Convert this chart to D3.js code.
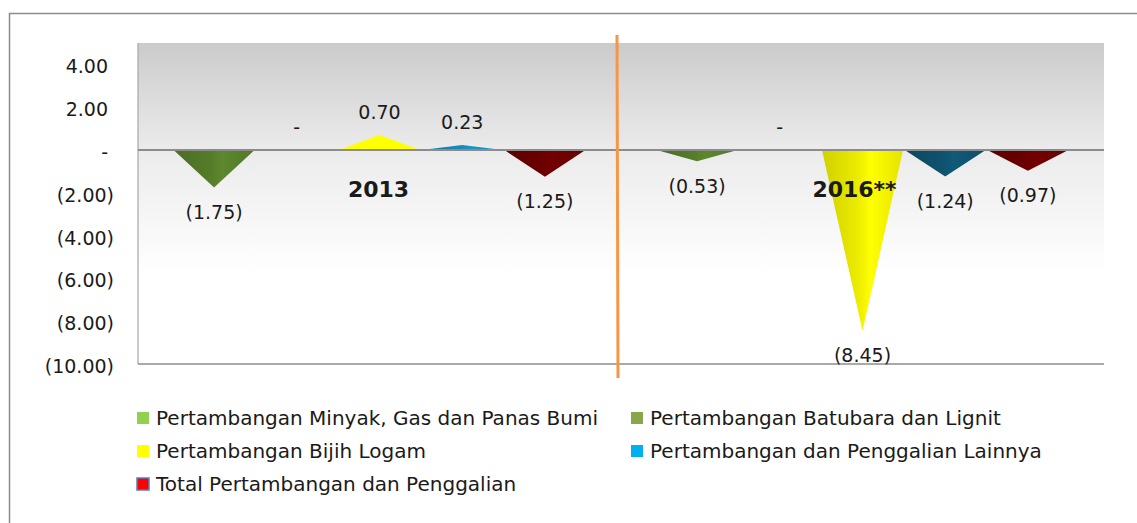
<!DOCTYPE html>
<html lang="id">
<head>
<meta charset="UTF-8" />
<title>Pertumbuhan Pertambangan dan Penggalian</title>
<script src="https://cdn.jsdelivr.net/npm/d3@7"></script>
<style>
  body { margin: 0; background: #fff; }
  text { font-family: "DejaVu Sans", sans-serif; fill: #1a1a1a; }
</style>
</head>
<body>
<svg id="vis" width="1137" height="523"></svg>
<script>
// data
const years = ["2013", "2016**"];
const series = [
  "Pertambangan Minyak, Gas dan Panas Bumi",
  "Pertambangan Batubara dan Lignit",
  "Pertambangan Bijih Logam",
  "Pertambangan dan Penggalian Lainnya",
  "Total Pertambangan dan Penggalian"
];
const values2013 = [-1.75, 0, 0.70, 0.23, -1.25];
const values2016 = [-0.53, 0, -8.45, -1.24, -0.97];
const yTicks = [4, 2, 0, -2, -4, -6, -8, -10];

// styles
const legendColors = ["#92D050", "#8AA64A", "#FFFF00", "#00B0F0", "#FF0000"];
const coneColors = ["#557c29", "#6f8a3a", "#ecec00", "#0f526e", "#6a0000"];

const svg = d3.select("#vis");
const plotLeft = 138, plotRight = 1104, plotTop = 43, plotBottom = 364;

let y = d3.scaleLinear().domain([-10, 5]).range([plotBottom, plotTop]);
let xGroup = d3.scaleBand().domain(years).range([plotLeft, plotRight]);
let xSeries = d3.scaleBand().domain(series).range([0, xGroup.bandwidth()])
  .paddingInner(0.02).paddingOuter(0.43);

function fmt(v) {
  if (v === 0) return "-";
  if (v < 0) return "(" + d3.format(".2f")(-v) + ")";
  return d3.format(".2f")(v);
}

// outer frame (only top and left visible)
svg.append("rect").attr("x", 9.5).attr("y", 13.5).attr("width", 1140).attr("height", 520)
  .attr("fill", "none").attr("stroke", "#8c8c8c").attr("stroke-width", 1.5);

const defs = svg.append("defs");
let bg = defs.append("linearGradient").attr("id", "bg").attr("x1", 0).attr("y1", 0).attr("x2", 0).attr("y2", 1);
bg.append("stop").attr("offset", 0).attr("stop-color", "#cbcbcb");
bg.append("stop").attr("offset", 0.33).attr("stop-color", "#ebebeb");
bg.append("stop").attr("offset", 0.72).attr("stop-color", "#ffffff");

svg.append("rect").attr("x", plotLeft).attr("y", plotTop)
  .attr("width", plotRight - plotLeft).attr("height", plotBottom - plotTop)
  .attr("fill", "url(#bg)");

// y axis
let gy = svg.append("g").attr("transform", `translate(${plotLeft},0)`)
  .call(d3.axisLeft(y).tickValues(yTicks).tickFormat(fmt).tickSize(0).tickPadding(24));
gy.select(".domain").remove();
gy.selectAll("text")
  .style("font-size", "19px").style("font-family", "DejaVu Sans, sans-serif")
  .attr("fill", "#1a1a1a").attr("dy", "0.45em")
  .attr("x", d => d < 0 ? -24 : -30);

svg.append("line").attr("x1", plotLeft).attr("x2", plotLeft).attr("y1", plotTop).attr("y2", plotBottom)
  .attr("stroke", "#a6a6a6").attr("stroke-width", 1.2);
svg.append("line").attr("x1", plotLeft).attr("x2", plotRight).attr("y1", plotBottom).attr("y2", plotBottom)
  .attr("stroke", "#8c8c8c").attr("stroke-width", 1.5);

// cones
const allValues = { "2013": values2013, "2016**": values2016 };
let gCones = svg.append("g");
years.forEach((yr, gi) => {
  allValues[yr].forEach((v, si) => {
    if (v === 0) return;
    let base = d3.color(coneColors[si]);
    if (v > 0) base = base.brighter(1.4);
    let id = "cone" + gi + "_" + si;
    let grad = defs.append("linearGradient").attr("id", id).attr("x1", 0).attr("x2", 1).attr("y1", 0).attr("y2", 0);
    grad.append("stop").attr("offset", 0).attr("stop-color", base.darker(0.35));
    grad.append("stop").attr("offset", 0.45).attr("stop-color", base);
    grad.append("stop").attr("offset", 0.6).attr("stop-color", base.brighter(0.25));
    grad.append("stop").attr("offset", 1).attr("stop-color", base.darker(0.1));
    let x0 = xGroup(yr) + xSeries(series[si]);
    let w = xSeries.bandwidth();
    gCones.append("path")
      .attr("d", `M${x0},${y(0)} L${x0 + w},${y(0)} L${x0 + w / 2},${y(v)} Z`)
      .attr("fill", `url(#${id})`);
  });
});

// zero line
svg.append("line").attr("x1", plotLeft).attr("x2", plotRight).attr("y1", y(0)).attr("y2", y(0))
  .attr("stroke", "#8c8c8c").attr("stroke-width", 2);

// value labels
years.forEach(yr => {
  allValues[yr].forEach((v, si) => {
    let cx = xGroup(yr) + xSeries(series[si]) + xSeries.bandwidth() / 2;
    svg.append("text")
      .attr("x", cx).attr("y", v >= 0 ? y(v) - 23 : y(v) + 25)
      .attr("dy", "0.35em").attr("text-anchor", "middle")
      .style("font-size", "19px").text(fmt(v));
  });
});

// year labels
years.forEach(yr => {
  svg.append("text")
    .attr("x", xGroup(yr) + xGroup.bandwidth() / 2 - (yr === "2013" ? 1 : 8))
    .attr("y", y(0) + 47).attr("text-anchor", "middle")
    .style("font-size", "22px").style("font-weight", "bold").attr("fill", "#000")
    .text(yr);
});

// separator line
svg.append("line").attr("x1", xGroup("2016**") - 4).attr("x2", xGroup("2016**") - 3)
  .attr("y1", 35).attr("y2", 378)
  .attr("stroke", "#F79646").attr("stroke-width", 3);

// legend
let gLeg = svg.append("g");
series.forEach((s, i) => {
  let lx = i % 2 === 0 ? 137 : 631;
  let ly = 418 + Math.floor(i / 2) * 33;
  gLeg.append("rect").attr("x", lx).attr("y", ly - 6).attr("width", 12).attr("height", 12)
    .attr("fill", legendColors[i])
    .attr("stroke", i === 4 ? "#4F81BD" : "none").attr("stroke-width", 1.5);
  gLeg.append("text").attr("x", lx + 19).attr("y", ly).attr("dy", "0.36em")
    .style("font-size", "20px").text(s);
});
</script>
</body>
</html>
